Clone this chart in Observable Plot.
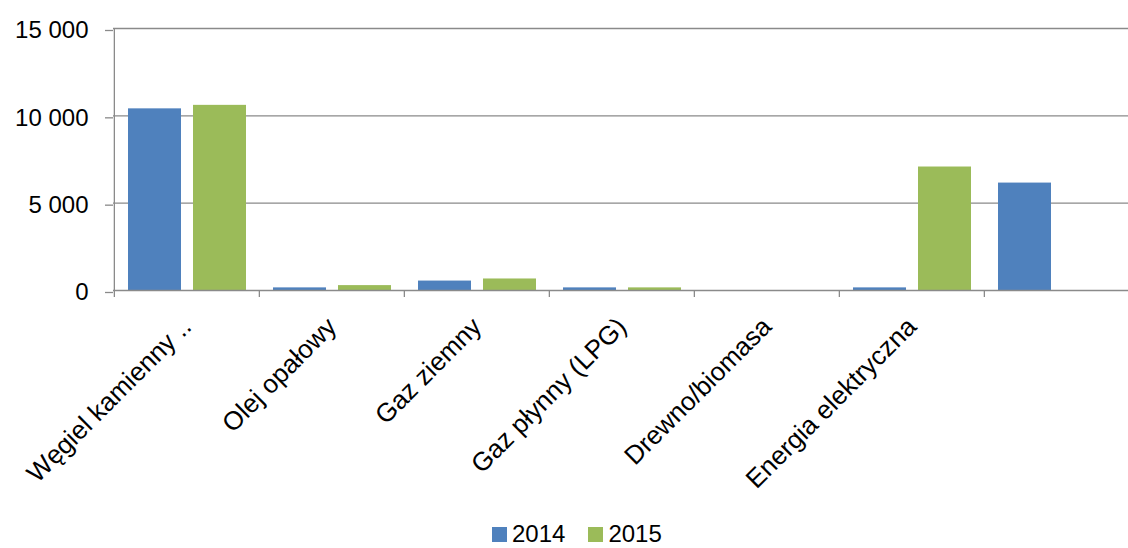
<!DOCTYPE html>
<html>
<head>
<meta charset="utf-8">
<script src="https://cdn.jsdelivr.net/npm/d3@7"></script>
<script src="https://cdn.jsdelivr.net/npm/@observablehq/plot@0.6"></script>
<style>
  html, body { margin: 0; padding: 0; background: #fff; }
  #wrap { position: relative; width: 1128px; height: 548px; font-family: "Liberation Sans", Arial, sans-serif; }
  #legend { position: absolute; left: 492px; top: 522px; display: flex; align-items: center; font-size: 24px; color: #000; line-height: 24px; }
  .item { display: flex; align-items: center; margin-right: 23px; }
  .sw { width: 15px; height: 15px; margin-right: 5px; display: inline-block; }
</style>
</head>
<body>
<div id="wrap"><div id="chart"></div><div id="legend"></div></div>
<script>
const categories = ["Węgiel kamienny ..", "Olej opałowy", "Gaz ziemny", "Gaz płynny (LPG)", "Drewno/biomasa", "Energia elektryczna", ""];
const years = ["2014", "2015"];
const values2014 = [10400, 150, 540, 150, 0, 150, 6150];
const values2015 = [10600, 280, 660, 150, 0, 7070, null];
const yTicks = [0, 5000, 10000, 15000];
const colors = ["#4F81BD", "#9BBB59"];

const W = 1128, H = 500, ML = 113, MR = -2, MT = 28, MB = 210;
const step = (W - ML - MR) / categories.length;

const rows2014 = categories.map((c, i) => ({category: c, value: values2014[i]})).filter(d => d.value != null);
const rows2015 = categories.map((c, i) => ({category: c, value: values2015[i]})).filter(d => d.value != null);

const fmt = d3.formatLocale({decimal: ",", thousands: " ", grouping: [3], currency: ["", ""]}).format(",");
const gridColor = "#8a8a8a";

const chart = Plot.plot({
  width: W, height: H,
  marginLeft: ML, marginRight: MR, marginTop: MT, marginBottom: MB,
  style: {fontFamily: "'Liberation Sans', Arial, sans-serif", background: "#fff", color: "#000", overflow: "visible"},
  x: {type: "band", domain: categories, padding: 0, axis: null, label: null},
  y: {domain: [0, 15000], axis: null, label: null},
  marks: [
    Plot.ruleY(yTicks.filter(d => d > 0), {stroke: gridColor, strokeWidth: 1.3}),
    Plot.barY(rows2014, {x: "category", y: "value", fill: colors[0], insetLeft: 14, insetRight: 78}),
    Plot.barY(rows2015, {x: "category", y: "value", fill: colors[1], insetLeft: 79, insetRight: 13}),
    Plot.ruleY([0], {stroke: gridColor, strokeWidth: 1.3}),
    Plot.ruleX([categories[0]], {x: d => d, dx: -step / 2, stroke: gridColor, strokeWidth: 1.3}),
    Plot.axisX({tickSize: 7, tickFormat: () => "", label: null, dx: -step / 2, stroke: gridColor, strokeWidth: 1.3}),
    Plot.axisX({tickSize: 0, tickPadding: 32, tickRotate: -45, label: null, dx: 0, fontSize: 26, fill: "#000", textAnchor: "end"}),
    Plot.axisY({ticks: yTicks, tickSize: 8, tickPadding: 17, tickFormat: fmt, label: null, fontSize: 24, stroke: gridColor, strokeWidth: 1.3, fill: "#000", dy: 2})
  ]
});
document.getElementById("chart").appendChild(chart);

const legend = document.getElementById("legend");
years.forEach((y, i) => {
  const it = document.createElement("div");
  it.className = "item";
  const sw = document.createElement("span");
  sw.className = "sw";
  sw.style.background = colors[i];
  const t = document.createElement("span");
  t.textContent = y;
  it.appendChild(sw); it.appendChild(t);
  legend.appendChild(it);
});
</script>
</body>
</html>
